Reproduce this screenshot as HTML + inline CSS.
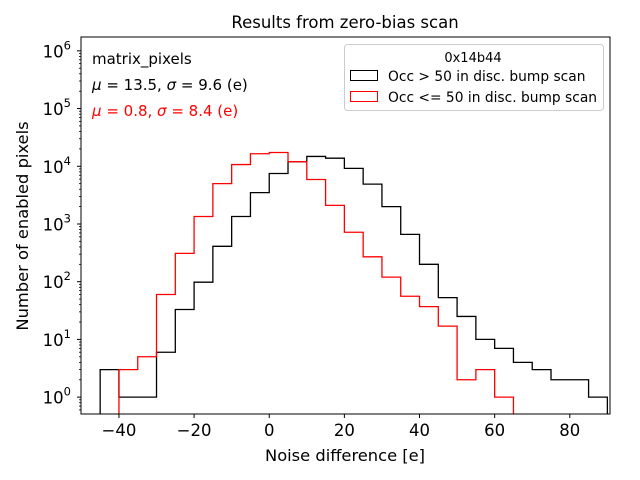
<!DOCTYPE html>
<html><head><meta charset="utf-8"><style>
body{margin:0;background:#fff}
svg{display:block;font-family:"DejaVu Sans","Liberation Sans",sans-serif}
</style></head><body>
<svg id="chart" width="640" height="480" viewBox="0 0 640 480">
<rect width="640" height="480" fill="#fff"/>
<text x="345" y="28" font-size="16.5" text-anchor="middle">Results from zero-bias scan</text>
<g id="marks"></g>
<g id="axes"></g>
<text x="345" y="461" font-size="16.3" text-anchor="middle">Noise difference [e]</text>
<text transform="translate(28,226) rotate(-90)" font-size="16.3" text-anchor="middle">Number of enabled pixels</text>
<g font-size="15">
<text x="92" y="64">matrix_pixels</text>
<text x="92" y="90"><tspan font-style="italic">μ</tspan> = 13.5, <tspan font-style="italic">σ</tspan> = 9.6 (e)</text>
<text x="92" y="116" fill="#ff0000"><tspan font-style="italic">μ</tspan> = 0.8, <tspan font-style="italic">σ</tspan> = 8.4 (e)</text>
</g>
<g>
<rect x="344.5" y="44.5" width="259" height="66" rx="3" fill="#fff" fill-opacity="0.8" stroke="#ccc"/>
<text x="473" y="62" font-size="13" text-anchor="middle">0x14b44</text>
<g><rect x="350.5" y="70.5" width="27" height="10" fill="none" stroke="#000"/><text x="388" y="81" font-size="13.8">Occ &gt; 50 in disc. bump scan</text></g>
<g><rect x="350.5" y="91.5" width="27" height="10" fill="none" stroke="#ff0000"/><text x="388" y="102" font-size="13.8">Occ &lt;= 50 in disc. bump scan</text></g>
</g>
</svg>
<script>
const binEdgesStart = -45;
const binWidth = 5;
const blackCounts = [3,1,1,6,33,98,410,1350,3500,7500,12000,14800,13800,9200,4900,2000,660,200,53,25,10,7,4,3,2,2,1];
const redCounts = [0,3,5,60,310,1350,5000,10700,16500,17300,12000,5900,2100,720,270,120,56,37,17,2,3,1,0,0,0,0,0];
const xTicks = [-40,-20,0,20,40,60,80];
const yTickExps = [0,1,2,3,4,5,6];

const L=81,R=610,T=37,B=414;
const xMin=-50.1,xMax=90.7;
const yMinLog=Math.log10(0.51),yMaxLog=6.24;
const xs=v=>L+(v-xMin)/(xMax-xMin)*(R-L);
const ys=v=>B-(Math.log10(v)-yMinLog)/(yMaxLog-yMinLog)*(B-T);
const NS='http://www.w3.org/2000/svg';
function mk(tag,attrs,parent){const e=document.createElementNS(NS,tag);for(const k in attrs)e.setAttribute(k,attrs[k]);parent.appendChild(e);return e;}
const marks=document.getElementById('marks'),axes=document.getElementById('axes');

function stepPath(counts){
  let d='',open=false;
  counts.forEach((c,i)=>{
    const x0=xs(binEdgesStart+i*binWidth),x1=xs(binEdgesStart+(i+1)*binWidth);
    const y=c>0?ys(c):B+5;
    if(!open){d+=`M${x0},${B+5}`;open=true;}
    d+=`L${x0},${y}L${x1},${y}`;
  });
  const xe=xs(binEdgesStart+counts.length*binWidth);
  d+=`L${xe},${B+5}`;
  return d;
}
const clip=mk('clipPath',{id:'pc'},marks);mk('rect',{x:L,y:T,width:R-L,height:B-T},clip);
const pb=mk('path',{d:stepPath(blackCounts),fill:'none',stroke:'#000','stroke-width':1.3,'clip-path':'url(#pc)'},marks);


const pr=mk('path',{d:stepPath(redCounts),fill:'none',stroke:'#ff0000','stroke-width':1.3,'clip-path':'url(#pc)'},marks);



const frame=mk('rect',{x:L,y:T,width:R-L,height:B-T,fill:'none',stroke:'#000','stroke-width':1},axes);



xTicks.forEach(v=>{
  const x=xs(v);
  mk('line',{x1:x,x2:x,y1:B,y2:B+4,stroke:'#000'},axes);
  const t=mk('text',{x:x,y:B+22,'font-size':16.5,'text-anchor':'middle'},axes);
  t.textContent=v<0?'\u2212'+Math.abs(v):String(v);
  
  
});
for(let e=-1;e<=6;e++){
  for(let m=2;m<=9;m++){
    const v=m*Math.pow(10,e);
    if(Math.log10(v)<yMinLog||Math.log10(v)>yMaxLog)continue;
    const y=ys(v);mk('line',{x1:L-2,x2:L,y1:y,y2:y,stroke:'#000','stroke-width':0.8},axes);
  }
}
yTickExps.forEach(e=>{
  const y=ys(Math.pow(10,e));
  mk('line',{x1:L-4,x2:L,y1:y,y2:y,stroke:'#000'},axes);
  const t=mk('text',{x:L-10,y:y+6.5,'font-size':16.5,'text-anchor':'end'},axes);
  t.innerHTML='10<tspan dy="-8" font-size="11.5">'+e+'</tspan>';
  
  
});
</script>
</body></html>
